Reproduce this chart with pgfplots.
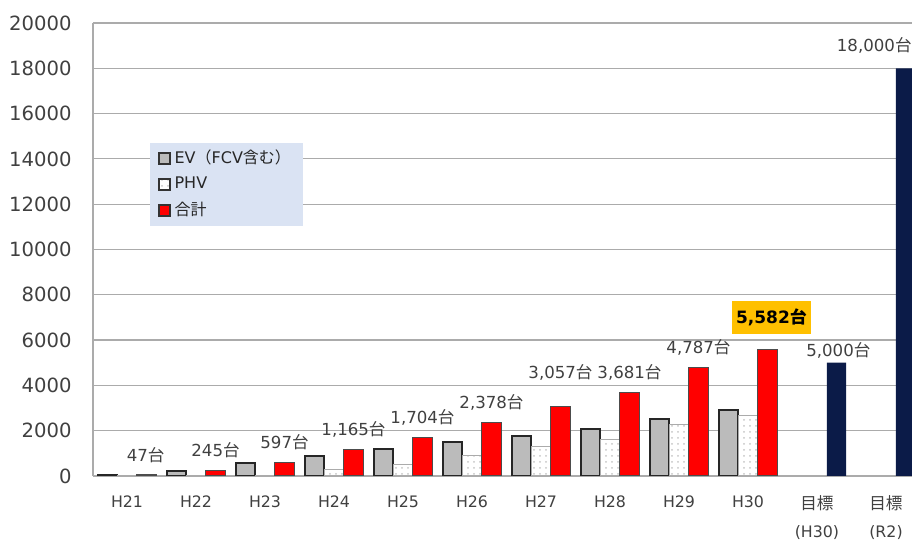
\documentclass[border=0pt]{standalone}
\usepackage{fontspec}
\setmainfont{DejaVu Sans}
\newfontfamily\cjk{Noto Sans CJK JP}
\usepackage{pgfplots}
\pgfplotsset{compat=1.18}
\usetikzlibrary{patterns}
\definecolor{gridgray}{HTML}{ABABAB}
\definecolor{txt}{HTML}{404040}
\definecolor{evgray}{HTML}{BBBBBB}
\definecolor{navy}{HTML}{0B1B48}
\definecolor{legbg}{HTML}{DAE3F3}
\definecolor{gold}{HTML}{FFC000}
\definecolor{barred}{HTML}{FF0000}
\begin{document}
\begin{tikzpicture}
\useasboundingbox (-46.5pt,-32pt) rectangle (409.5pt,238pt);
\begin{axis}[
  at={(0pt,0pt)}, anchor=south west,
  scale only axis, width=409.5pt, height=226.5pt,
  xmin=-0.493, xmax=11.377, ymin=0, ymax=20000,
  ytick={0,2000,...,20000},
  scaled y ticks=false,
  xtick={0,...,11},
  xticklabels={H21,H22,H23,H24,H25,H26,H27,H28,H29,H30,{{\cjk\fontsize{8.3}{14.25}\selectfont 目標}\\(H30)},{{\cjk\fontsize{8.3}{14.25}\selectfont 目標}\\(R2)}},
  ymajorgrids, grid style={gridgray, line width=0.6pt},
  axis x line*=bottom, axis y line*=left,
  axis line style={gridgray, line width=0.7pt, -},
  major tick length=0pt, tick style={draw=none},
  yticklabel style={font=\fontsize{9.8}{10}\selectfont, text=txt, inner sep=0pt, anchor=east, xshift=-10.5pt, /pgf/number format/fixed, /pgf/number format/precision=0},
  xticklabel style={font=\fontsize{7.9}{14.25}\selectfont, text=txt, inner sep=0pt, anchor=north, yshift=-9.5pt, align=center},
  /pgf/number format/assume math mode=true,
  /pgf/number format/1000 sep={},
  legend style={at={(0.0696,0.737)}, anchor=north west, fill=legbg, draw=none,
    font=\fontsize{8}{9}\selectfont, text=black!85, inner xsep=4pt, inner ysep=3.3pt,
    row sep=4.2pt, cells={anchor=west}, nodes={inner xsep=2pt, inner ysep=0.5pt}},
  legend image code/.code={\draw[#1, draw=black!80, line width=0.7pt] (0pt,-2.7pt) rectangle (5.4pt,2.7pt);},
]
% EV (incl. FCV)
\addplot[ybar, bar width=0.28, fill=evgray, draw=black!85, line width=1pt]
  coordinates {(-0.283,30) (0.717,225) (1.717,570) (2.717,895) (3.717,1175) (4.717,1480) (5.717,1770) (6.717,2070) (7.717,2510) (8.717,2900)};
\addlegendentry{EV{\cjk （}FCV{\cjk 含む）}\hspace{13pt}}
% PHV
\addplot[ybar, bar width=0.28, fill=white, draw=gridgray, line width=0.5pt, postaction={pattern=dots, pattern color=gray!45}]
  coordinates {(0,7) (1,20) (2,27) (3,270) (4,529) (5,898) (6,1287) (7,1611) (8,2277) (9,2682)};
\addlegendentry{PHV}
% Total
\addplot[ybar, bar width=0.28, fill=barred, draw=black!70, line width=0.5pt]
  coordinates {(0.283,47) (1.283,245) (2.283,597) (3.283,1165) (4.283,1704) (5.283,2378) (6.283,3057) (7.283,3681) (8.283,4787) (9.283,5582)};
\addlegendentry{{\cjk 合計}}
% Targets
\addplot[ybar, bar width=0.28, fill=navy, draw=none, forget plot]
  coordinates {(10.283,5000) (11.283,18000)};
% value labels
\begin{scope}[every node/.style={font=\fontsize{8.3}{10}\selectfont, text=txt, inner sep=0pt}]
\node at (axis cs:0.27,930) {47{\cjk 台}};
\node at (axis cs:1.283,1128) {245{\cjk 台}};
\node at (axis cs:2.283,1480) {597{\cjk 台}};
\node at (axis cs:3.283,2048) {1,165{\cjk 台}};
\node at (axis cs:4.283,2587) {1,704{\cjk 台}};
\node at (axis cs:5.283,3261) {2,378{\cjk 台}};
\node at (axis cs:6.283,4564) {3,057{\cjk 台}};
\node at (axis cs:7.283,4564) {3,681{\cjk 台}};
\node at (axis cs:8.283,5670) {4,787{\cjk 台}};
\node at (axis cs:10.31,5530) {5,000{\cjk 台}};
\node[anchor=east] at (axis cs:11.377,19029) {18,000{\cjk 台}};
\node[fill=gold, text=black, minimum width=39.5pt, minimum height=16.5pt, font=\fontsize{8.5}{10}\selectfont\bfseries] at (axis cs:9.34,6998) {5,582{\cjk\bfseries 台}};
\end{scope}
\end{axis}
\end{tikzpicture}
\end{document}
